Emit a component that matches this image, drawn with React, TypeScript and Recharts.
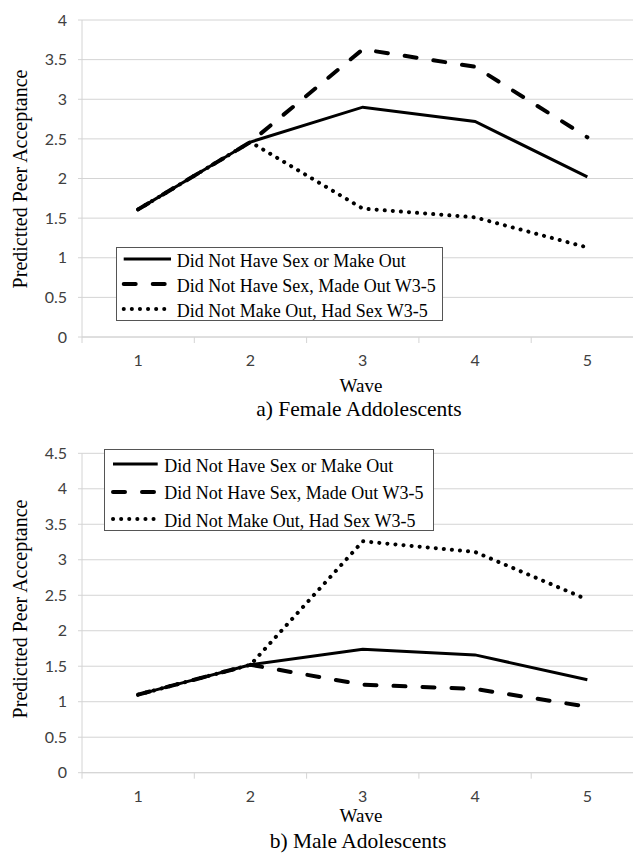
import React from 'react';
import { LineChart, Line, XAxis, YAxis, CartesianGrid, Legend } from 'recharts';

// ---------- data ----------
const waves = [1, 2, 3, 4, 5];
const seriesKeys = ['neither', 'madeOut', 'hadSex'];
const seriesNames = [
  'Did Not Have Sex or Make Out',
  'Did Not Have Sex, Made Out W3-5',
  'Did Not Make Out, Had Sex W3-5',
];
const femaleNeither = [1.61, 2.46, 2.9, 2.72, 2.02];
const femaleMadeOut = [1.61, 2.46, 3.63, 3.41, 2.52];
const femaleHadSex = [1.61, 2.46, 1.62, 1.51, 1.13];
const maleNeither = [1.1, 1.52, 1.74, 1.66, 1.31];
const maleMadeOut = [1.1, 1.52, 1.24, 1.18, 0.93];
const maleHadSex = [1.1, 1.52, 3.26, 3.11, 2.44];
const femaleYTicks = [0, 0.5, 1, 1.5, 2, 2.5, 3, 3.5, 4];
const maleYTicks = [0, 0.5, 1, 1.5, 2, 2.5, 3, 3.5, 4, 4.5];
const yLabel = 'Predictted Peer Acceptance';
const xLabel = 'Wave';
const femaleCaption = 'a) Female Addolescents';
const maleCaption = 'b) Male Adolescents';

const buildRows = (a: number[], b: number[], c: number[]) =>
  waves.map((w, i) => ({ wave: w, neither: a[i], madeOut: b[i], hadSex: c[i] }));
const femaleData = buildRows(femaleNeither, femaleMadeOut, femaleHadSex);
const maleData = buildRows(maleNeither, maleMadeOut, maleHadSex);

// category boundaries + centres on a numeric axis
const xTicks: number[] = [];
waves.forEach((w) => {
  xTicks.push(w - 0.5);
  xTicks.push(w);
});
xTicks.push(waves[waves.length - 1] + 0.5);

// ---------- styles ----------
const GRID = '#d4d4d4';
const TICK_TEXT = '#404040';
const SERIF = '"Liberation Serif", "Times New Roman", serif';
const SANS = 'Lato, "Open Sans", sans-serif';

const lineStyles: Record<string, any> = {
  neither: { strokeWidth: 3 },
  madeOut: { strokeWidth: 4, strokeDasharray: '12 17', strokeLinecap: 'round' },
  hadSex: { strokeWidth: 4, strokeDasharray: '0.1 8', strokeLinecap: 'round' },
};

const XTick = (props: any) => {
  const { x, y, payload } = props;
  const v = payload.value;
  if (Number.isInteger(v)) {
    return (
      <text x={x} y={y + 29} textAnchor="middle" fontFamily={SANS} fontSize={16} fill={TICK_TEXT}>
        {v}
      </text>
    );
  }
  return <line x1={x} x2={x} y1={y} y2={y + 6} stroke={GRID} strokeWidth={1} />;
};

const makeLegend = (rows: number[], sx1: number, sx2: number, textX: number) => (props: any) => {
  const payload = (props.payload || []).slice().sort(
    (a: any, b: any) => seriesKeys.indexOf(a.dataKey) - seriesKeys.indexOf(b.dataKey)
  );
  return (
    <div
      style={{
        position: 'relative',
        width: '100%',
        height: '100%',
        boxSizing: 'border-box',
        border: '1px solid #555',
        background: '#fff',
      }}
    >
      {payload.map((p: any, i: number) => {
        const st = lineStyles[p.dataKey];
        return (
          <React.Fragment key={p.dataKey}>
            <svg
              style={{ position: 'absolute', left: 0, top: rows[i] - 6, overflow: 'visible' }}
              width={sx2 + 4}
              height={12}
            >
              <line x1={sx1} x2={sx2} y1={6} y2={6} stroke="#000" {...st} />
            </svg>
            <div
              style={{
                position: 'absolute',
                left: textX,
                top: rows[i] - 12 + 1.5,
                height: 24,
                lineHeight: '24px',
                fontFamily: SERIF,
                fontSize: 18,
                color: '#000',
                whiteSpace: 'nowrap',
              }}
            >
              {p.value}
            </div>
          </React.Fragment>
        );
      })}
    </div>
  );
};

type PanelProps = {
  data: any[];
  yTicks: number[];
  height: number;
  marginTop: number;
  marginBottom: number;
  legendStyle: React.CSSProperties;
  legendContent: any;
};

const Panel = ({ data, yTicks, height, marginTop, marginBottom, legendStyle, legendContent }: PanelProps) => (
  <LineChart
    width={650}
    height={height}
    data={data}
    margin={{ top: marginTop, right: 6.5, left: 0, bottom: marginBottom }}
  >
    <CartesianGrid horizontal vertical={false} stroke={GRID} strokeWidth={1} />
    <XAxis
      dataKey="wave"
      type="number"
      domain={[0.5, 5.5]}
      ticks={xTicks}
      interval={0}
      allowDataOverflow
      tickLine={false}
      tickSize={0}
      tickMargin={0}
      axisLine={{ stroke: GRID }}
      tick={<XTick />}
      height={30}
    />
    <YAxis
      type="number"
      domain={[0, yTicks[yTicks.length - 1]]}
      ticks={yTicks}
      interval={0}
      width={82}
      tickSize={4}
      tickMargin={11}
      axisLine={{ stroke: GRID }}
      tickLine={{ stroke: GRID }}
      tick={{ fontFamily: SANS, fontSize: 16, fill: TICK_TEXT }}
    />
    <Legend
      layout="vertical"
      align="center"
      verticalAlign="middle"
      wrapperStyle={legendStyle}
      content={legendContent}
    />
    <Line
      dataKey="hadSex"
      name={seriesNames[2]}
      type="linear"
      stroke="#000"
      {...lineStyles.hadSex}
      dot={false}
      activeDot={false}
      isAnimationActive={false}
    />
    <Line
      dataKey="madeOut"
      name={seriesNames[1]}
      type="linear"
      stroke="#000"
      {...lineStyles.madeOut}
      dot={false}
      activeDot={false}
      isAnimationActive={false}
    />
    <Line
      dataKey="neither"
      name={seriesNames[0]}
      type="linear"
      stroke="#000"
      {...lineStyles.neither}
      dot={false}
      activeDot={false}
      isAnimationActive={false}
    />
  </LineChart>
);

export default function App() {
  return (
    <div
      style={{
        position: 'absolute',
        left: 0,
        top: 0,
        width: 633,
        height: 853,
        overflow: 'hidden',
        background: '#fff',
      }}
    >
      <div style={{ position: 'absolute', left: 0, top: 0 }}>
        <Panel
          data={femaleData}
          yTicks={femaleYTicks}
          height={420}
          marginTop={20}
          marginBottom={53}
          legendStyle={{ left: 116, top: 247, width: 327, height: 74 }}
          legendContent={makeLegend([11.3, 36.3, 61.3], 6.7, 54, 59.7)}
        />
      </div>
      <div style={{ position: 'absolute', left: 0, top: 420 }}>
        <Panel
          data={maleData}
          yTicks={maleYTicks}
          height={433}
          marginTop={33.3}
          marginBottom={50.3}
          legendStyle={{ left: 104, top: 29.3, width: 330, height: 82 }}
          legendContent={makeLegend([14, 41.7, 69], 8, 52.7, 59.3)}
        />
      </div>
      <svg
        width={633}
        height={853}
        style={{ position: 'absolute', left: 0, top: 0, pointerEvents: 'none' }}
      >
        <text x={26.5} y={179} transform="rotate(-90, 26.5, 179)" textAnchor="middle" fontFamily={SERIF} fontSize={20} fill="#000">
          {yLabel}
        </text>
        <text x={26.5} y={609} transform="rotate(-90, 26.5, 609)" textAnchor="middle" fontFamily={SERIF} fontSize={20} fill="#000">
          {yLabel}
        </text>
        <text x={361} y={391.7} textAnchor="middle" fontFamily={SERIF} fontSize={19} fill="#000">
          {xLabel}
        </text>
        <text x={359} y={416} textAnchor="middle" fontFamily={SERIF} fontSize={21.5} fill="#000">
          {femaleCaption}
        </text>
        <text x={361} y={821.7} textAnchor="middle" fontFamily={SERIF} fontSize={19} fill="#000">
          {xLabel}
        </text>
        <text x={358} y={848} textAnchor="middle" fontFamily={SERIF} fontSize={21.5} fill="#000">
          {maleCaption}
        </text>
      </svg>
    </div>
  );
}
